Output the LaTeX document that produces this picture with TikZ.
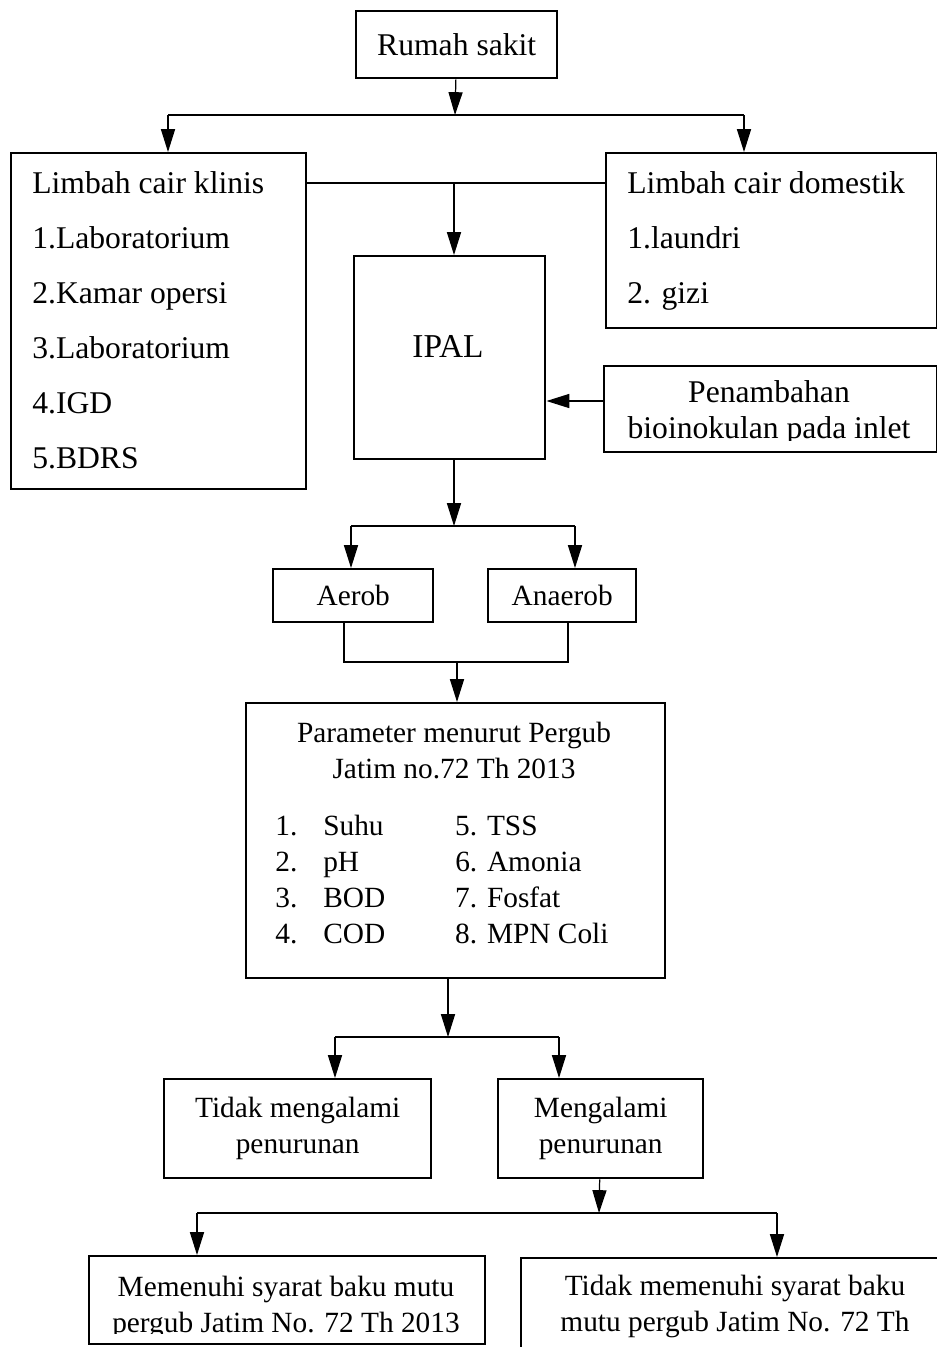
\documentclass[tikz,border=0pt]{standalone}
\usepackage{fontspec}
\setmainfont{Liberation Serif}
\usetikzlibrary{arrows.meta}
\newcommand{\px}{0.02cm}
\newcommand{\smallfs}{\fontsize{16.7}{20.5}\selectfont}
\tikzset{
  box/.style={draw, line width=1.4pt, inner sep=0pt, anchor=north west, align=center,
    font=\fontsize{18}{20.5}\selectfont},
  txt/.style={inner sep=0pt, font=\fontsize{18}{20.5}\selectfont},
  list/.style={inner sep=0pt, anchor=north west, align=left, font=\fontsize{18}{31.3}\selectfont},
  conn/.style={line width=0.7pt},
  arr/.style={conn, -{Triangle[length=13pt,width=8pt]}}
}
\begin{document}
\begin{tikzpicture}[x=\px, y=-\px]
  \clip (0,0) rectangle (937,1347);
  % boxes
  \node[box, minimum width=201*\px, minimum height=67*\px] (rs) at (355,10) {Rumah sakit};
  \node[box, minimum width=295*\px, minimum height=336*\px] (klinis) at (10,152) {};
  \node[list] (klinistxt) at (32,171) {Limbah cair klinis\\1.Laboratorium\\2.Kamar opersi\\3.Laboratorium\\4.IGD\\5.BDRS};
  \node[box, minimum width=331*\px, minimum height=175*\px] (domestik) at (605,152) {};
  \node[list] (domestiktxt) at (627,171) {Limbah cair domestik\\1.laundri\\2. gizi};
  \node[box, minimum width=191*\px, minimum height=203*\px] (ipal) at (353,255) {};
  \node[txt, font=\fontsize{19}{20.5}\selectfont] (ipaltxt) at (448,346) {IPAL};
  \node[box, minimum width=333*\px, minimum height=86*\px] (pen) at (603,365) {};
  \begin{scope}
    \clip (603,365) rectangle (936,440);
    \node[txt, align=center] (pentxt) at (769,413) {Penambahan\\bioinokulan pada inlet};
  \end{scope}
  \node[box, font=\smallfs, minimum width=160*\px, minimum height=53*\px] (aerob) at (272,568) {Aerob};
  \node[box, font=\smallfs, minimum width=148*\px, minimum height=53*\px] (anaerob) at (487,568) {Anaerob};
  \node[box, minimum width=419*\px, minimum height=275*\px] (param) at (245,702) {};
  \node[txt, font=\smallfs, align=center] (paramtxt) at (454,751) {Parameter menurut Pergub\\Jatim no.72 Th 2013};
  \node[txt, anchor=base west] (paramlist) at (275,835) {\smallfs
    \begin{tabular}[t]{@{}p{27.3pt}@{}p{75.1pt}@{}l@{}}
      1. & Suhu & 5. TSS\\
      2. & pH & 6. Amonia\\
      3. & BOD & 7. Fosfat\\
      4. & COD & 8. MPN Coli
    \end{tabular}};
  \node[box, font=\smallfs, minimum width=267*\px, minimum height=99*\px] (tidak) at (163,1078) {Tidak mengalami\\penurunan};
  \node[box, font=\smallfs, minimum width=205*\px, minimum height=99*\px] (turun) at (497,1078) {Mengalami\\penurunan};
  \node[box, minimum width=396*\px, minimum height=88*\px] (memenuhi) at (88,1255) {};
  \begin{scope}
    \clip (88,1255) rectangle (484,1333);
    \node[txt, font=\smallfs, align=center] (memenuhitxt) at (286,1307) {Memenuhi syarat baku mutu\\pergub Jatim No. 72 Th 2013};
  \end{scope}
  \node[box, minimum width=430*\px, minimum height=200*\px] (tdkmemenuhi) at (520,1257) {};
  \node[txt, font=\smallfs, align=center] (tdkmemenuhitxt) at (735,1306) {Tidak memenuhi syarat baku\\mutu pergub Jatim No. 72 Th};
  % connectors
  \coordinate (s1) at (455,115);
  \coordinate (s1l) at (168,115);
  \coordinate (s1r) at (744,115);
  \draw[arr] (rs) -- (s1);
  \draw[conn] (s1l) -- (s1r);
  \draw[arr] (s1l) -- (klinis.north -| s1l);
  \draw[arr] (s1r) -- (domestik.north -| s1r);
  \coordinate (m1) at (454,183);
  \draw[conn] (klinis.east |- m1) -- (domestik.west |- m1);
  \draw[arr] (m1) -- (ipal.north -| m1);
  \coordinate (p1) at (603,401);
  \draw[arr] (p1) -- (ipal.east |- p1);
  \coordinate (s2) at (454,526);
  \coordinate (s2l) at (351,526);
  \coordinate (s2r) at (575,526);
  \draw[arr] (ipal.south -| s2) -- (s2);
  \draw[conn] (s2l) -- (s2r);
  \draw[arr] (s2l) -- (aerob.north -| s2l);
  \draw[arr] (s2r) -- (anaerob.north -| s2r);
  \coordinate (j1) at (457,662);
  \coordinate (j1l) at (344,662);
  \coordinate (j1r) at (568,662);
  \draw[conn] (aerob.south -| j1l) -- (j1l) -- (j1r) -- (anaerob.south -| j1r);
  \draw[arr] (j1) -- (param.north -| j1);
  \coordinate (s3) at (448,1037);
  \coordinate (s3l) at (335,1037);
  \coordinate (s3r) at (559,1037);
  \draw[arr] (param.south -| s3) -- (s3);
  \draw[conn] (s3l) -- (s3r);
  \draw[arr] (s3l) -- (tidak.north -| s3l);
  \draw[arr] (s3r) -- (turun.north -| s3r);
  \coordinate (s4) at (599,1213);
  \coordinate (s4l) at (197,1213);
  \coordinate (s4r) at (777,1213);
  \draw[arr] (turun) -- (s4);
  \draw[conn] (s4l) -- (s4r);
  \draw[arr] (s4l) -- (memenuhi.north -| s4l);
  \draw[arr] (s4r) -- (tdkmemenuhi.north -| s4r);
\end{tikzpicture}
\end{document}
